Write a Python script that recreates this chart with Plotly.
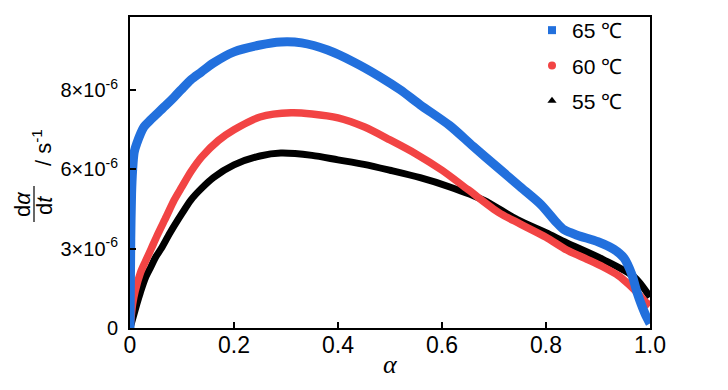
import plotly.graph_objects as go

# ---- data (rate in units of 1e-6 s^-1) ----
alpha_65 = [0, 0.0015, 0.003, 0.005, 0.008, 0.013, 0.027, 0.04, 0.052, 0.07, 0.085, 0.098,
            0.117, 0.137, 0.16, 0.2, 0.25, 0.29, 0.33, 0.38, 0.43, 0.48, 0.52, 0.558,
            0.615, 0.66, 0.71, 0.75, 0.79, 0.82, 0.835, 0.86, 0.9, 0.93, 0.95, 0.965,
            0.975, 0.99, 1.0]
rate_65 = [0, 3.0, 4.5, 5.3, 5.9, 6.2, 6.76, 7.0, 7.2, 7.5, 7.76, 8.0,
           8.34, 8.6, 8.9, 9.28, 9.51, 9.61, 9.58, 9.34, 8.94, 8.45, 8.0, 7.5,
           6.8, 6.1, 5.35, 4.75, 4.15, 3.55, 3.3, 3.12, 2.9, 2.65, 2.35, 1.8,
           1.2, 0.5, 0.15]

alpha_60 = [0, 0.005, 0.01, 0.02, 0.03, 0.041, 0.052, 0.07, 0.085, 0.1, 0.117, 0.138,
            0.17, 0.2, 0.25, 0.31, 0.35, 0.4, 0.45, 0.5, 0.55, 0.6, 0.65,
            0.71, 0.75, 0.8, 0.84, 0.88, 0.91, 0.94, 0.96, 0.98, 0.99, 1.0]
rate_60 = [0, 0.8, 1.25, 1.85, 2.25, 2.67, 3.1, 3.75, 4.3, 4.75, 5.25, 5.75,
           6.3, 6.66, 7.09, 7.23, 7.19, 7.06, 6.76, 6.32, 5.85, 5.3, 4.65,
           3.87, 3.5, 3.05, 2.62, 2.3, 2.05, 1.75, 1.45, 1.1, 0.9, 0.75]

alpha_55 = [0, 0.005, 0.013, 0.02, 0.03, 0.04, 0.05, 0.06, 0.077, 0.1, 0.117, 0.138,
            0.16, 0.2, 0.25, 0.29, 0.35, 0.4, 0.45, 0.5, 0.558, 0.615, 0.68, 0.744,
            0.8, 0.84, 0.91, 0.97, 1.0]
rate_55 = [0, 0.3, 0.8, 1.2, 1.7, 2.05, 2.4, 2.67, 3.2, 3.85, 4.3, 4.7,
           5.05, 5.48, 5.78, 5.88, 5.8, 5.65, 5.5, 5.3, 5.05, 4.74, 4.3, 3.65,
           3.2, 2.86, 2.3, 1.71, 1.04]

series_names = ["65 ℃", "60 ℃", "55 ℃"]
series_colors = ["#2270dd", "#f24444", "#000000"]
series_symbols = ["square", "circle", "triangle-up"]

x_tick_vals = [0, 0.2, 0.4, 0.6, 0.8, 1.0]
x_tick_text = ["0", "0.2", "0.4", "0.6", "0.8", "1.0"]
y_tick_vals = [0, 8 / 3, 16 / 3, 8]
y_tick_text = ["0", "3×10<sup>-6</sup>", "6×10<sup>-6</sup>", "8×10<sup>-6</sup>"]

SCALE = 1e-6
FONT = "Liberation Sans, Arial, sans-serif"

fig = go.Figure()

# data curves, drawn back to front (55, 60, 65)
curves = [(alpha_55, rate_55, 2, 7), (alpha_60, rate_60, 1, 7.5), (alpha_65, rate_65, 0, 9)]
for ax, ry, idx, w in curves:
    fig.add_trace(go.Scatter(
        x=ax, y=[v * SCALE for v in ry], mode="lines",
        line=dict(color=series_colors[idx], width=w, shape="spline", smoothing=0.8),
        showlegend=False, hoverinfo="skip"))

# legend entries
for i, name in enumerate(series_names):
    fig.add_trace(go.Scatter(
        x=[None], y=[None], mode="markers", name=name, legendgroup=name,
        marker=dict(color=series_colors[i], symbol=series_symbols[i], size=8)))

# page has an 8px body margin: work in page pixels, convert to figure pixels
OFF = 8
W, H = 728 - 2 * OFF, 390 - 2 * OFF
L, R, T, B = 130 - OFF, 650 - OFF, 17 - OFF, 328 - OFF

def px(x):
    return (x - OFF - L) / (R - L)

def py(y):
    return (B - (y - OFF)) / (B - T)

fig.update_layout(
    width=W, height=H,
    margin=dict(l=L, r=W - R, t=T, b=H - B, autoexpand=False),
    paper_bgcolor="white", plot_bgcolor="white",
    font=dict(family=FONT, size=21, color="black"),
    showlegend=True,
    legend=dict(x=px(532), y=py(10), xanchor="left", yanchor="top",
                bgcolor="rgba(0,0,0,0)", borderwidth=0,
                font=dict(family=FONT, size=21),
                tracegroupgap=5, traceorder="grouped"),
    xaxis=dict(range=[0, 1], tickvals=x_tick_vals, ticktext=x_tick_text,
               ticklabelstandoff=-5,
               ticks="inside", ticklen=6, tickwidth=1.5, tickcolor="black",
               showline=True, linecolor="black", linewidth=2, mirror=True,
               showgrid=False, zeroline=False,
               tickfont=dict(family=FONT, size=23)),
    yaxis=dict(range=[0, 10.45 * SCALE], tickvals=[v * SCALE for v in y_tick_vals],
               ticktext=y_tick_text, ticklabelstandoff=6,
               ticks="inside", ticklen=6, tickwidth=1.5, tickcolor="black",
               showline=True, linecolor="black", linewidth=2, mirror=True,
               showgrid=False, zeroline=False,
               tickfont=dict(family=FONT, size=20)),
)

# axis titles
fig.add_annotation(x=px(390), y=py(364), xref="paper", yref="paper",
                   xanchor="center", yanchor="middle",
                   text="<i>α</i>", showarrow=False,
                   font=dict(family="Liberation Serif, Times New Roman, serif", size=26))
fig.add_annotation(x=px(22), y=py(204), xref="paper", yref="paper",
                   xanchor="center", yanchor="middle",
                   text="d<i>α</i>", showarrow=False, textangle=-90,
                   font=dict(family=FONT, size=22))
fig.add_annotation(x=px(45), y=py(206), xref="paper", yref="paper",
                   xanchor="center", yanchor="middle",
                   text="d<i>t</i>", showarrow=False, textangle=-90,
                   font=dict(family=FONT, size=22))
fig.add_shape(type="line", xref="paper", yref="paper",
              x0=px(34), x1=px(34), y0=py(186), y1=py(222),
              line=dict(color="black", width=1.2))
fig.add_annotation(x=px(42), y=py(148), xref="paper", yref="paper",
                   xanchor="center", yanchor="middle",
                   text="/ s<sup>-1</sup>", showarrow=False, textangle=-90,
                   font=dict(family=FONT, size=22))

fig.write_html("out.html")
